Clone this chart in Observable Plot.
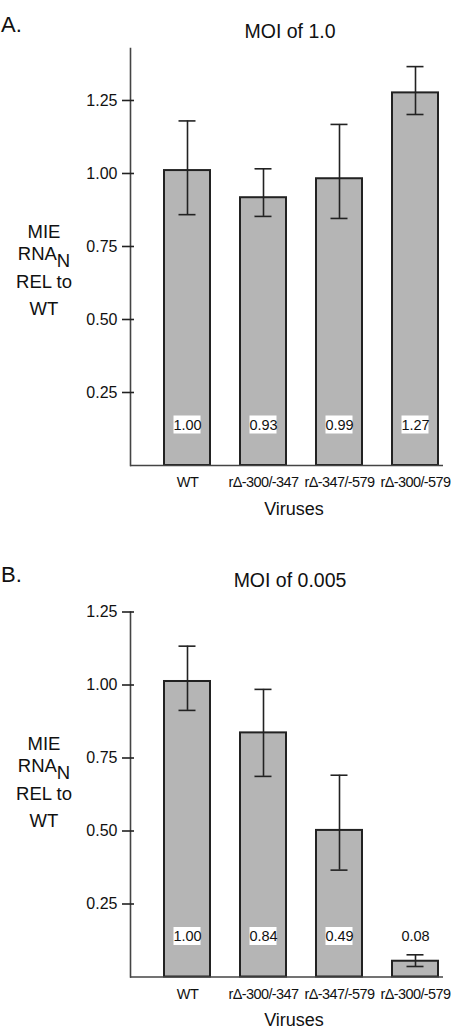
<!DOCTYPE html>
<html>
<head>
<meta charset="utf-8">
<script src="https://cdn.jsdelivr.net/npm/d3@7"></script>
<script src="https://cdn.jsdelivr.net/npm/@observablehq/plot@0.6"></script>
<style>
  html, body { margin: 0; padding: 0; background: #fff; }
  #chart { width: 458px; }
  #chart svg { display: block; }
</style>
</head>
<body>
<div id="chart"></div>
<script>
// ---- data ----
const viruses = ["WT", "rΔ-300/-347", "rΔ-347/-579", "rΔ-300/-579"];

const moi1Means  = [1.01, 0.917, 0.982, 1.276];
const moi1Lo     = [0.859, 0.853, 0.846, 1.202];
const moi1Hi     = [1.180, 1.016, 1.168, 1.366];
const moi1Labels = ["1.00", "0.93", "0.99", "1.27"];

const moi2Means  = [1.012, 0.836, 0.502, 0.054];
const moi2Lo     = [0.913, 0.687, 0.366, 0.036];
const moi2Hi     = [1.133, 0.985, 0.691, 0.076];
const moi2Labels = ["1.00", "0.84", "0.49", "0.08"];

const yTicks = [0.25, 0.5, 0.75, 1.0, 1.25];

const FONT = "'Liberation Sans', Arial, Helvetica, sans-serif";

function makePanel(o) {
  const data = viruses.map((v, i) => ({
    virus: v, mean: o.means[i], lo: o.lo[i], hi: o.hi[i],
    label: o.labels[i], boxed: o.means[i] > 0.3
  }));
  const plot = Plot.plot({
    width: 458,
    height: o.height,
    marginLeft: 130,
    marginRight: 15,
    marginTop: o.marginTop,
    marginBottom: o.marginBottom,
    style: {fontFamily: FONT, background: "#fff", color: "#111", overflow: "visible"},
    x: {domain: viruses, paddingInner: 0.39, paddingOuter: 0.2275, align: 0.886, label: null},
    y: {domain: [0, o.yMax], label: null},
    marks: [
      Plot.frame({anchor: "left", stroke: "#444", strokeWidth: 1.6}),
      Plot.barY(data, {x: "virus", y: "mean", fill: "#b5b5b5", stroke: "#222", strokeWidth: 2}),
      Plot.ruleY([0], {stroke: "#444", strokeWidth: 1.6}),
      Plot.ruleX(data, {x: "virus", y1: "lo", y2: "hi", stroke: "#222", strokeWidth: 1.6}),
      Plot.tickY(data, {x: "virus", y: "lo", inset: 14.5, stroke: "#222", strokeWidth: 1.6}),
      Plot.tickY(data, {x: "virus", y: "hi", inset: 14.5, stroke: "#222", strokeWidth: 1.6}),
      Plot.axisY({ticks: yTicks, tickFormat: d3.format(".2f"), tickSize: 12, tickPadding: 5, dx: 4,
                  fontSize: 16, stroke: "#222", strokeWidth: 1.6, label: null}),
      Plot.axisX({tickSize: 0, tickPadding: 11.5, fontSize: 14.5, label: null}),
      // white boxes behind the value labels (pixel-sized, anchored at y = 0)
      Plot.barY(data.filter(d => d.boxed), {x: "virus", y1: 0, y2: 0, fill: "#fff",
                  insetTop: -49.5, insetBottom: 31.5, insetLeft: 9.5, insetRight: 9.5}),
      Plot.text(data, {x: "virus", y: 0, text: "label", dy: -40.5, fontSize: 14.5, fill: "#111",
                  ariaLabel: "value label"})
    ]
  });
  document.getElementById("chart").appendChild(plot);
  const svg = d3.select(plot);
  const y = plot.scale("y");
  const y0 = y.apply(0);

  // condensed letter spacing for small labels
  svg.selectAll('g[aria-label="x-axis tick label"] text').style("letter-spacing", "-0.6px");
  svg.selectAll('g[aria-label="value label"] text').style("letter-spacing", "-0.8px");

  const t = svg.append("g").attr("font-family", FONT).attr("fill", "#111");
  // panel letter
  t.append("text").attr("x", 1).attr("y", o.letterY).attr("font-size", 22)
    .attr("text-anchor", "start").text(o.letter);
  // title
  t.append("text").attr("x", 290).attr("y", o.titleY).attr("font-size", 19.5)
    .attr("text-anchor", "middle").text(o.title);
  // x label
  t.append("text").attr("x", 294).attr("y", y0 + 49.5).attr("font-size", 18)
    .attr("text-anchor", "middle").text("Viruses");
  // y label
  const yl = t.append("g").attr("font-size", 18.5).attr("text-anchor", "middle");
  yl.append("text").attr("x", 44).attr("y", y0 - 227).text("MIE");
  const rna = yl.append("text").attr("x", 44).attr("y", y0 - 205);
  rna.append("tspan").text("RNA");
  rna.append("tspan").attr("dy", 7).text("N");
  yl.append("text").attr("x", 44).attr("y", y0 - 177).text("REL to");
  yl.append("text").attr("x", 44).attr("y", y0 - 150).text("WT");
}

makePanel({
  title: "MOI of 1.0", letter: "A.", letterY: 32, titleY: 38,
  means: moi1Means, lo: moi1Lo, hi: moi1Hi, labels: moi1Labels,
  height: 530, marginTop: 48, marginBottom: 65, yMax: 1.428
});
makePanel({
  title: "MOI of 0.005", letter: "B.", letterY: 52, titleY: 57,
  means: moi2Means, lo: moi2Lo, hi: moi2Hi, labels: moi2Labels,
  height: 500, marginTop: 81.5, marginBottom: 53.5, yMax: 1.25
});
</script>
</body>
</html>
